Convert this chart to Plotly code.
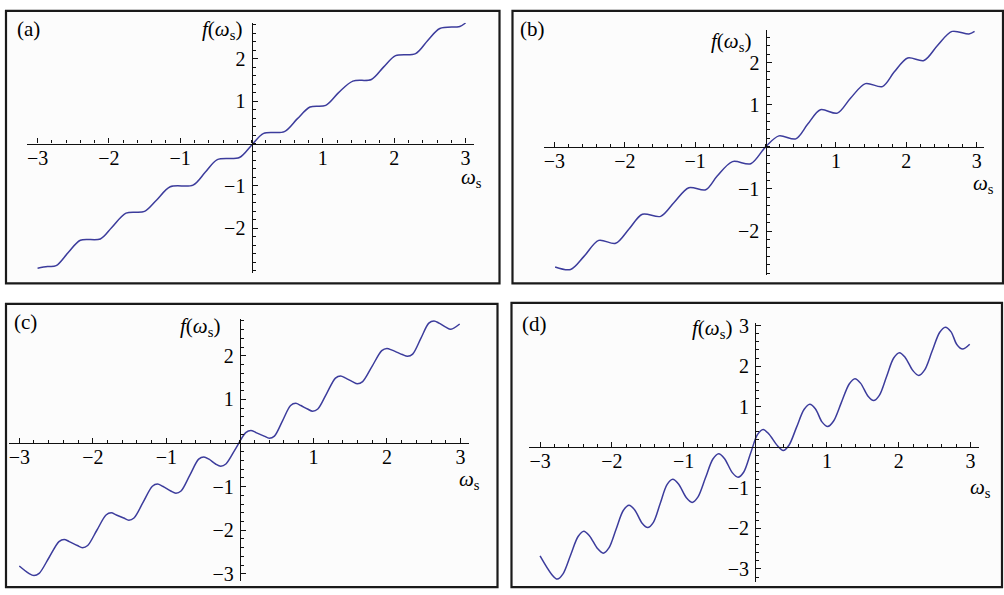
import numpy as np
import plotly.graph_objects as go

W, H = 1004, 595

# ---------------- data ----------------
a_w = [-3.00, -2.86, -2.74, -2.57, -2.40, -2.12, -1.96, -1.76, -1.50, -1.33, -1.14, -0.82,
       -0.65, -0.48, -0.17, 0.00, 0.17, 0.46, 0.64, 0.82, 1.04, 1.22, 1.42, 1.68, 1.85,
       2.02, 2.30, 2.47, 2.64, 2.92, 3.00]
a_f = [-2.94, -2.90, -2.88, -2.57, -2.28, -2.25, -1.98, -1.64, -1.60, -1.33, -1.02, -0.98,
       -0.68, -0.38, -0.33, -0.04, 0.24, 0.28, 0.58, 0.86, 0.90, 1.20, 1.47, 1.51, 1.80,
       2.07, 2.12, 2.43, 2.71, 2.76, 2.84]

b_w = [-2.99, -2.77, -2.58, -2.37, -2.13, -1.94, -1.75, -1.49, -1.30, -1.09, -0.85, -0.69,
       -0.47, -0.21, 0.00, 0.19, 0.43, 0.60, 0.78, 1.02, 1.21, 1.42, 1.66, 1.83, 2.02,
       2.25, 2.44, 2.65, 2.89, 2.97]
b_f = [-2.85, -2.91, -2.60, -2.22, -2.29, -1.95, -1.60, -1.65, -1.32, -0.97, -1.02, -0.70,
       -0.35, -0.40, 0.00, 0.26, 0.19, 0.54, 0.88, 0.80, 1.16, 1.50, 1.43, 1.78, 2.11,
       2.05, 2.40, 2.74, 2.68, 2.74]

c_w = [-3.00, -2.87, -2.80, -2.73, -2.595, -2.46, -2.39, -2.32, -2.21, -2.14, -2.07, -1.945,
       -1.82, -1.75, -1.68, -1.58, -1.51, -1.44, -1.315, -1.19, -1.12, -1.05, -0.94, -0.87,
       -0.80, -0.68, -0.56, -0.49, -0.42, -0.33, -0.26, -0.19, -0.055, 0.08, 0.15, 0.22,
       0.33, 0.40, 0.47, 0.58, 0.69, 0.76, 0.83, 0.92, 0.99, 1.06, 1.18, 1.30, 1.37, 1.44,
       1.53, 1.60, 1.67, 1.80, 1.93, 2.00, 2.07, 2.14, 2.21, 2.28, 2.35, 2.46, 2.57, 2.64,
       2.71, 2.80, 2.87, 2.99]
c_f = [-2.82, -2.99, -3.04, -2.99, -2.625, -2.26, -2.21, -2.26, -2.35, -2.40, -2.35, -2.00,
       -1.65, -1.60, -1.65, -1.72, -1.77, -1.72, -1.355, -0.99, -0.94, -0.99, -1.10, -1.15,
       -1.10, -0.735, -0.37, -0.32, -0.37, -0.48, -0.53, -0.48, -0.12, 0.24, 0.29, 0.24,
       0.16, 0.11, 0.16, 0.51, 0.86, 0.91, 0.86, 0.78, 0.73, 0.78, 1.135, 1.49, 1.54, 1.49,
       1.41, 1.36, 1.41, 1.765, 2.12, 2.17, 2.13, 2.08, 2.03, 1.99, 2.04, 2.395, 2.75, 2.80,
       2.75, 2.66, 2.61, 2.73]

d_w = [-3.00, -2.84, -2.76, -2.68, -2.575, -2.47, -2.39, -2.31, -2.20, -2.12, -2.04, -1.94,
       -1.84, -1.76, -1.68, -1.58, -1.50, -1.42, -1.325, -1.23, -1.15, -1.07, -0.96, -0.88,
       -0.80, -0.695, -0.59, -0.51, -0.43, -0.32, -0.24, -0.16, -0.065, 0.03, 0.11, 0.19,
       0.31, 0.39, 0.47, 0.575, 0.68, 0.76, 0.84, 0.93, 1.01, 1.09, 1.20, 1.31, 1.39, 1.47,
       1.57, 1.65, 1.73, 1.83, 1.93, 2.01, 2.09, 2.20, 2.28, 2.36, 2.465, 2.57, 2.65, 2.73,
       2.81, 2.89, 2.99]
d_f = [-2.68, -3.13, -3.25, -3.12, -2.66, -2.20, -2.07, -2.185, -2.495, -2.61, -2.48, -2.02,
       -1.56, -1.43, -1.545, -1.865, -1.98, -1.85, -1.385, -0.92, -0.79, -0.905, -1.245, -1.36,
       -1.23, -0.76, -0.29, -0.16, -0.275, -0.625, -0.74, -0.61, -0.15, 0.31, 0.44, 0.325,
       0.035, -0.08, 0.05, 0.49, 0.93, 1.06, 0.945, 0.625, 0.51, 0.64, 1.10, 1.56, 1.69, 1.575,
       1.265, 1.15, 1.28, 1.74, 2.20, 2.33, 2.215, 1.885, 1.77, 1.90, 2.365, 2.83, 2.96, 2.845,
       2.535, 2.42, 2.54]

x_tickvals = [-3, -2, -1, 1, 2, 3]
x_ticktext = ["\u22123", "\u22122", "\u22121", "1", "2", "3"]
y_tickvals_abc = [-2, -1, 1, 2]
y_ticktext_abc = ["\u22122", "\u22121", "1", "2"]
y_tickvals_cd = [-3, -2, -1, 1, 2, 3]
y_ticktext_cd = ["\u22123", "\u22122", "\u22121", "1", "2", "3"]

panel_names = ["(a)", "(b)", "(c)", "(d)"]

# ---------------- layout geometry (pixels) ----------------
panels = [
    dict(w=a_w, f=a_f, frame=(5, 3, 499, 281), xpx=(26, 473.3), x0=250.8, xs=71.4,
         ypx=(15, 270.7), y0=138.3, ys=43.3, yt=(y_tickvals_abc, y_ticktext_abc),
         lab=(14, 21), flab=(243, 22), wlab=(458, 173)),
    dict(w=b_w, f=b_f, frame=(512, 3, 1003, 281), xpx=(543.7, 983.7), x0=765.3, xs=70.45,
         ypx=(22.7, 272.7), y0=141.7, ys=43.0, yt=(y_tickvals_abc, y_ticktext_abc),
         lab=(518, 21), flab=(753, 35), wlab=(971, 180)),
    dict(w=c_w, f=c_f, frame=(5, 302, 497, 591), xpx=(8.3, 468.3), x0=239.1, xs=73.6,
         ypx=(317.7, 585), y0=444, ys=44.5, yt=(y_tickvals_cd[:-1], y_ticktext_cd[:-1]),
         lab=(11, 320), flab=(221, 326), wlab=(456, 482)),
    dict(w=d_w, f=d_f, frame=(511, 301, 1002, 591), xpx=(528.7, 978.7), x0=755, xs=71.8,
         ypx=(321, 585.7), y0=448.3, ys=41.4, yt=(y_tickvals_cd, y_ticktext_cd),
         lab=(520, 322), flab=(734, 328), wlab=(968, 490)),
]

def px(x):
    return x / W

def py(y):
    return 1 - y / H

fig = go.Figure()
FONT = "Liberation Serif"
LINE_COL = "#3c3c9c"
TICK_SIZE = 20
LABEL_SIZE = 21

shapes = []
annotations = []
for i, p in enumerate(panels):
    n = "" if i == 0 else str(i + 1)
    xa, ya = "x" + n, "y" + n
    fig.add_trace(go.Scatter(x=p["w"], y=p["f"], mode="lines", xaxis=xa, yaxis=ya,
                             line=dict(color=LINE_COL, width=1.5, shape="spline", smoothing=0.9),
                             showlegend=False, hoverinfo="skip"))
    xr = [(p["xpx"][0] - p["x0"]) / p["xs"], (p["xpx"][1] - p["x0"]) / p["xs"]]
    yr = [(p["y0"] - p["ypx"][1]) / p["ys"], (p["y0"] - p["ypx"][0]) / p["ys"]]
    xdom = [px(p["xpx"][0]), px(p["xpx"][1])]
    ydom = [py(p["ypx"][1]), py(p["ypx"][0])]
    minor_x = [v for v in np.round(np.arange(-3.0, 3.01, 0.2), 2) if xr[0] <= v <= xr[1]]
    minor_y = [v for v in np.round(np.arange(-3.4, 3.41, 0.2), 2) if yr[0] <= v <= yr[1]]
    fig.layout["xaxis" + n] = dict(
        domain=xdom, range=xr, anchor="free", position=py(p["y0"]),
        showline=True, linecolor="#111111", linewidth=1.3, showgrid=False, zeroline=False,
        ticks="inside", ticklen=5, tickwidth=1.1, tickcolor="#111111",
        tickmode="array", tickvals=x_tickvals, ticktext=x_ticktext,
        minor=dict(ticks="inside", ticklen=3, tickwidth=1, tickcolor="#111111",
                   tickmode="array", tickvals=minor_x),
        tickfont=dict(family=FONT, size=TICK_SIZE, color="black"), ticklabelstandoff=-4,
        fixedrange=True)
    fig.layout["yaxis" + n] = dict(
        domain=ydom, range=yr, anchor="free", position=px(p["x0"]),
        showline=True, linecolor="#111111", linewidth=1.3, showgrid=False, zeroline=False,
        ticks="inside", ticklen=5, tickwidth=1.1, tickcolor="#111111",
        tickmode="array", tickvals=p["yt"][0], ticktext=p["yt"][1],
        minor=dict(ticks="inside", ticklen=3, tickwidth=1, tickcolor="#111111",
                   tickmode="array", tickvals=minor_y),
        tickfont=dict(family=FONT, size=TICK_SIZE, color="black"), ticklabelstandoff=2,
        fixedrange=True)
    fx0, fy0, fx1, fy1 = p["frame"]
    shapes.append(dict(type="rect", xref="paper", yref="paper", layer="below",
                       x0=px(fx0), x1=px(fx1), y0=py(fy1), y1=py(fy0),
                       line=dict(color="#1a1a1a", width=2.2), fillcolor="#fcfcfc"))
    annotations.append(dict(xref="paper", yref="paper", x=px(p["lab"][0]), y=py(p["lab"][1]),
                            xanchor="left", yanchor="middle", showarrow=False,
                            text=panel_names[i],
                            font=dict(family=FONT, size=LABEL_SIZE, color="black")))
    annotations.append(dict(xref="paper", yref="paper", x=px(p["flab"][0]), y=py(p["flab"][1]),
                            xanchor="right", yanchor="middle", showarrow=False,
                            text="<i>f</i>(<i>\u03c9</i><sub>s</sub>)",
                            font=dict(family=FONT, size=LABEL_SIZE, color="black")))
    annotations.append(dict(xref="paper", yref="paper", x=px(p["wlab"][0]), y=py(p["wlab"][1]),
                            xanchor="left", yanchor="middle", showarrow=False,
                            text="<i>\u03c9</i><sub>s</sub>",
                            font=dict(family=FONT, size=LABEL_SIZE, color="black")))

fig.update_layout(width=W, height=H, margin=dict(l=0, r=0, t=0, b=0),
                  paper_bgcolor="white", plot_bgcolor="rgba(0,0,0,0)",
                  shapes=shapes, annotations=annotations, showlegend=False)

fig.write_html("out.html", config={"displayModeBar": False},
               post_script="document.body.style.margin='0px';"
                           "document.body.style.overflow='hidden';")
